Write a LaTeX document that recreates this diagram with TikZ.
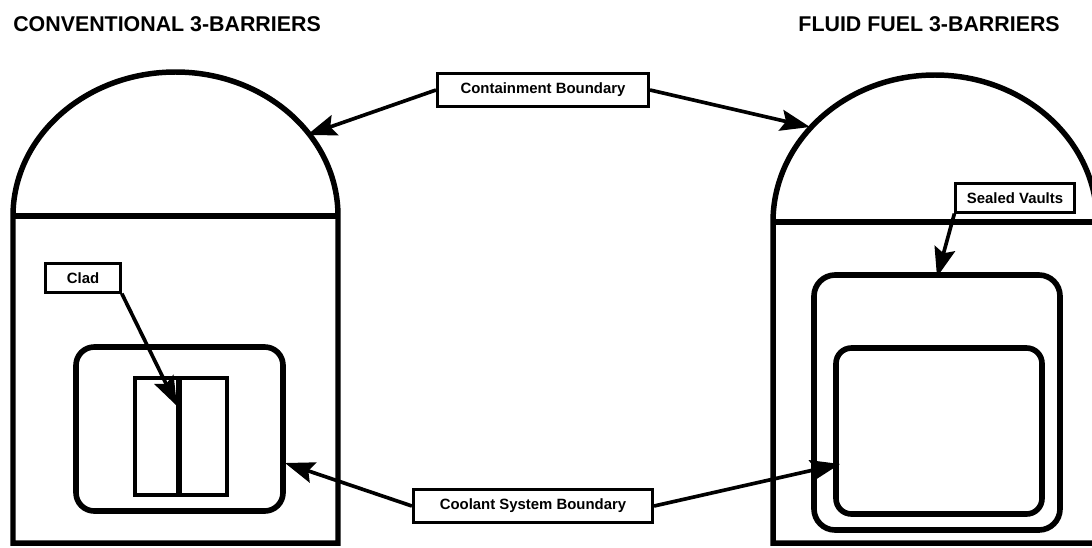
\documentclass[tikz,border=0pt]{standalone}
\usepackage{fontspec}
\setmainfont{Liberation Sans}
\usetikzlibrary{arrows.meta}
\tikzset{
  title/.style={anchor=west,inner sep=0pt,font=\fontsize{15.2}{17}\selectfont\bfseries},
  wall/.style={line width=3.9pt},
  barrier/.style={line width=4pt},
  tag/.style={draw,line width=2.2pt,fill=white,inner sep=0pt,font=\fontsize{10.6}{12}\selectfont\bfseries},
  pointer/.style={line width=2.6pt,-{Stealth[length=21pt,width=15pt,inset=3.5pt]}}
}
\begin{document}
\begin{tikzpicture}[x=0.025cm,y=-0.025cm]
    \clip (0,0) rectangle (1092,547);
    \node[title] (convtitle) at (13,24) {CONVENTIONAL 3-BARRIERS};
    \node[title,anchor=east] (fluidtitle) at (1060,24) {FLUID FUEL 3-BARRIERS};
    % Conventional building
    \draw[wall] (13,543) -- (13,216) arc[start angle=180,end angle=360,x radius=162.5,y radius=144] -- (338,543) -- cycle;
    \draw[wall] (13,216) -- (338,216);
    \draw[barrier,rounded corners=13pt] (76,347) rectangle (283,511);
    \draw[line width=2.4pt] (135,378) rectangle (227,495);
    \draw[line width=4.2pt] (179,378) -- (179,495);
    % Fluid fuel building
    \draw[wall] (773,543) -- (773,222) arc[start angle=180,end angle=360,x radius=162,y radius=147] -- (1097,543) -- cycle;
    \draw[wall] (773,222) -- (1097,222);
    \draw[barrier,rounded corners=15pt] (814,275) rectangle (1060,530);
    \draw[barrier,rounded corners=11pt] (836,348) rectangle (1042,514);
    % Labels
    \node[tag,minimum width=150pt,minimum height=23pt] (contain) at (543,90) {Containment Boundary};
    \node[tag,minimum width=170pt,minimum height=23pt] (coolant) at (533,506) {Coolant System Boundary};
    \node[tag,minimum width=53pt,minimum height=20pt] (clad) at (83,278) {Clad};
    \node[tag,minimum width=84pt,minimum height=20pt] (vaults) at (1015,198) {Sealed Vaults};
    % Pointer ends
    \coordinate (containL) at (307,135);
    \coordinate (containR) at (810,127);
    \coordinate (coolantL) at (285,463);
    \coordinate (coolantR) at (840,464);
    \coordinate (cladend) at (177,406);
    \coordinate (vaultsend) at (937,277);
    \draw[pointer] (contain.west) -- (containL);
    \draw[pointer] (contain.east) -- (containR);
    \draw[pointer] (coolant.west) -- (coolantL);
    \draw[pointer] (coolant.east) -- (coolantR);
    \draw[pointer] (clad.south east) -- (cladend);
    \draw[pointer] (vaults.south west) -- (vaultsend);
  \end{tikzpicture}
\end{document}
